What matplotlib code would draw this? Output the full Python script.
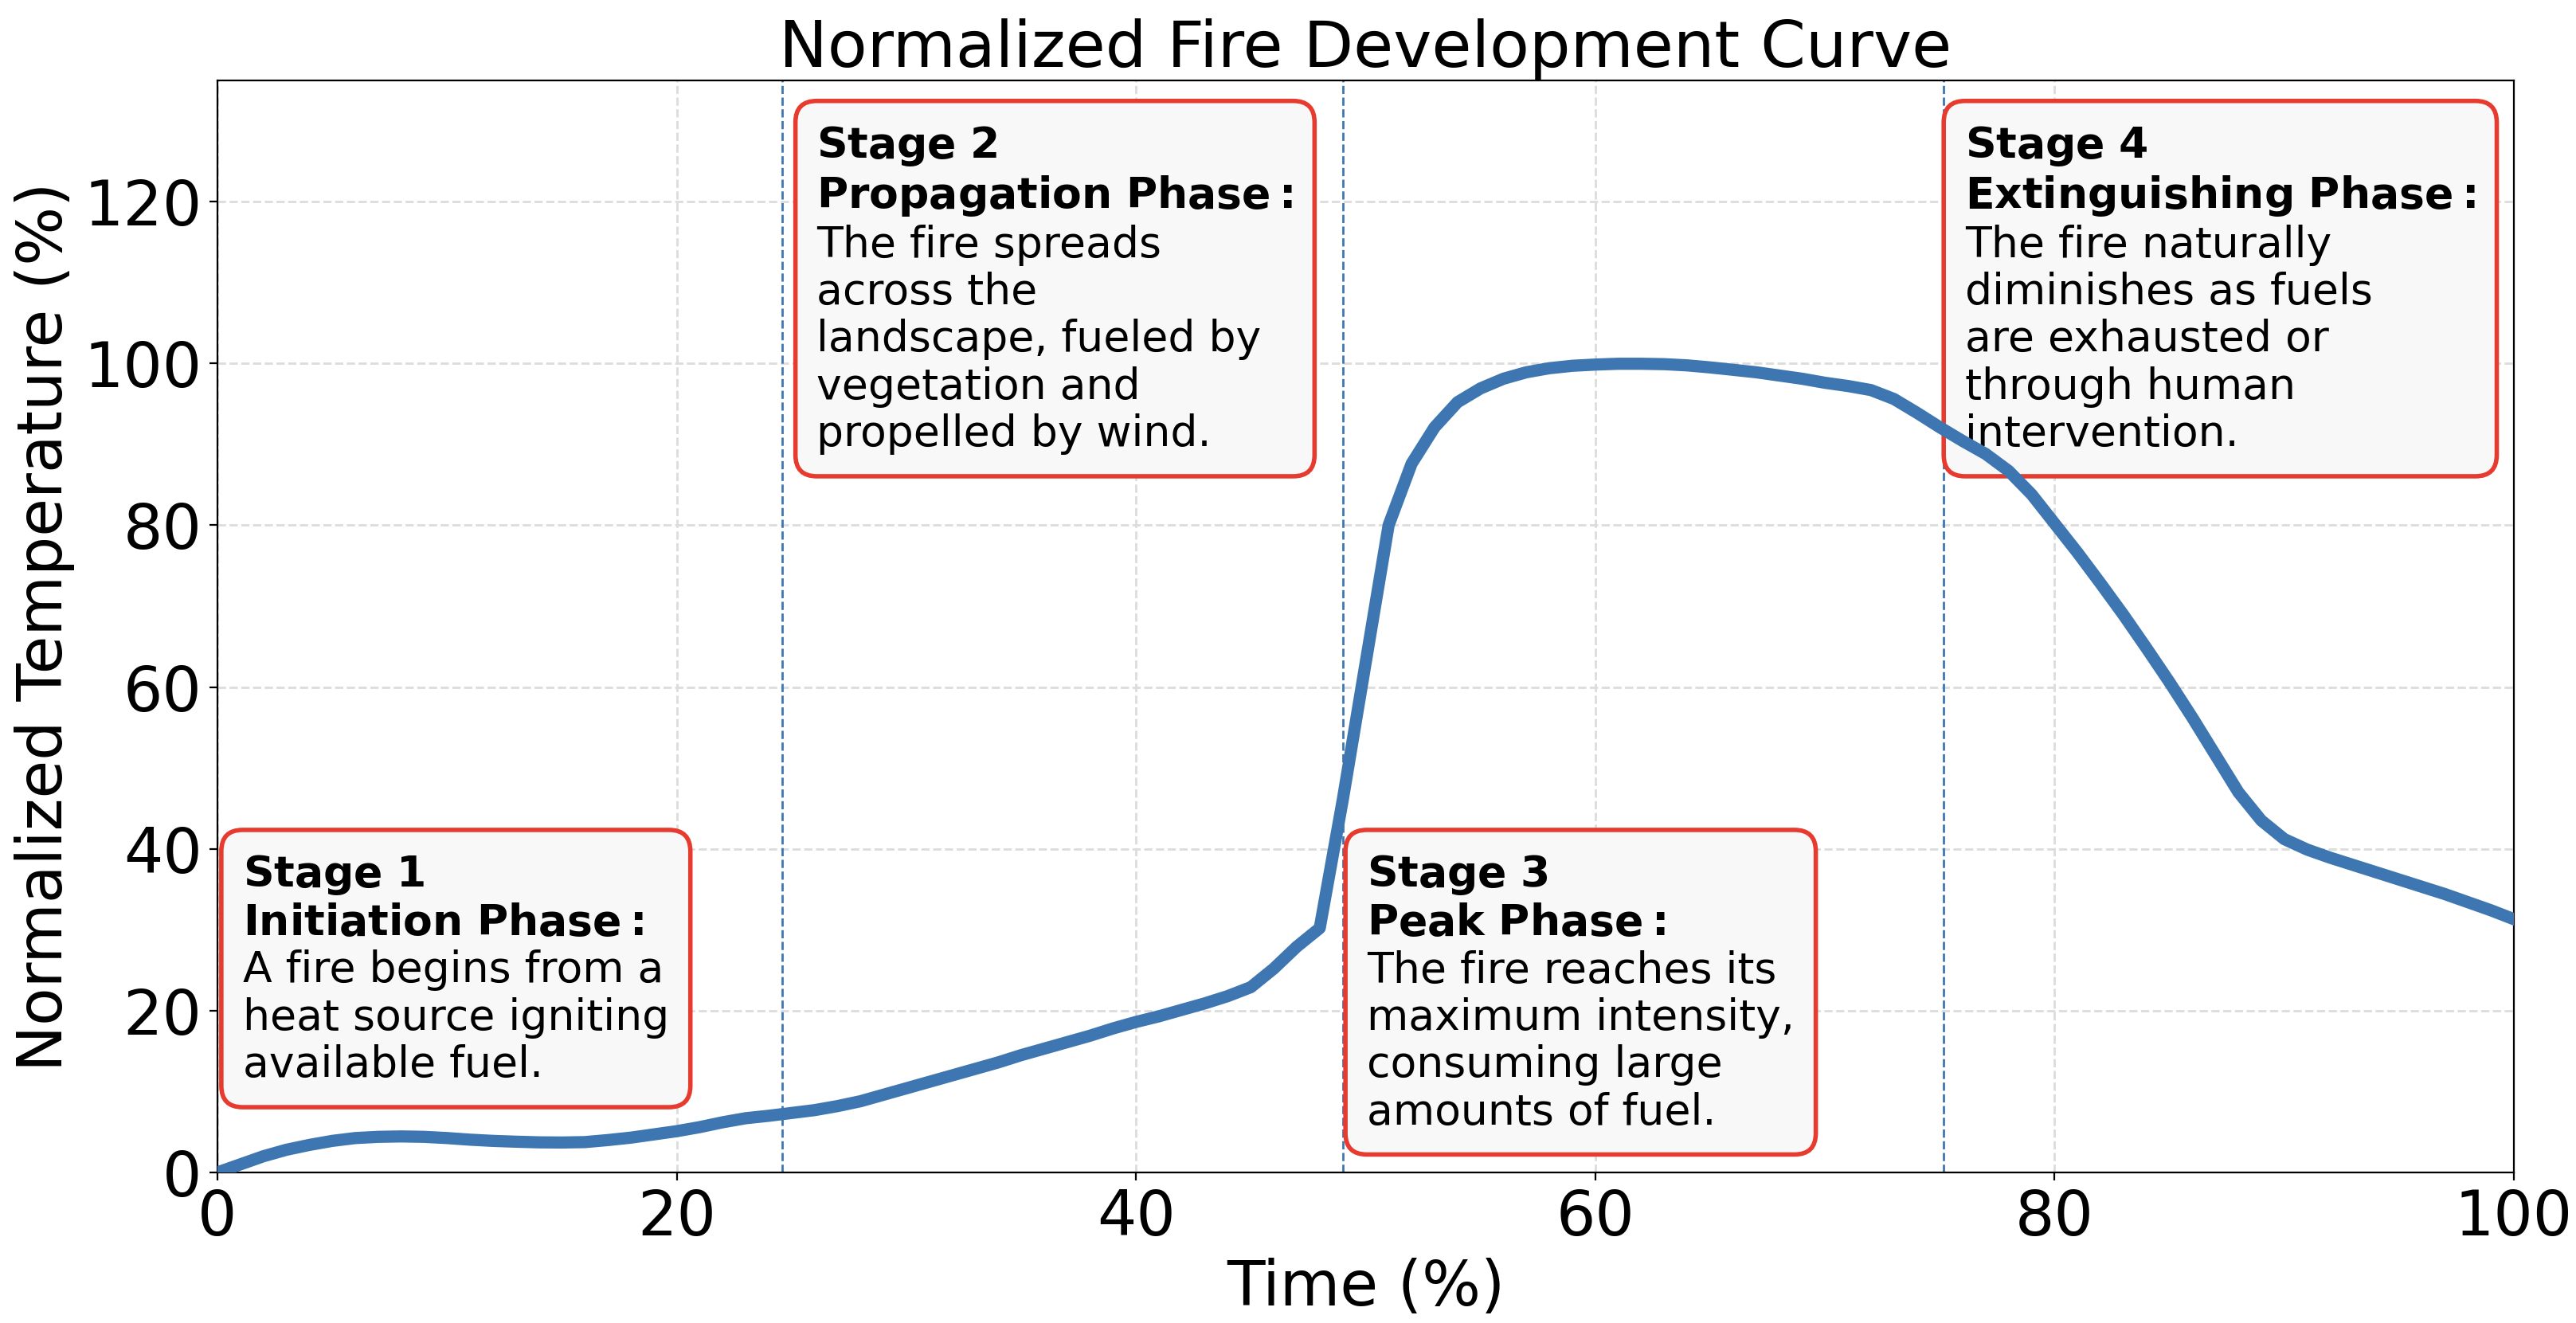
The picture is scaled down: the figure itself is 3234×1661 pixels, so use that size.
import numpy as np
import matplotlib
matplotlib.use("Agg")
import matplotlib.pyplot as plt

# time (%) and normalized temperature (%)
time_pct = list(range(0, 101))
temp_pct = [0.0, 1.0, 2.0, 2.8, 3.4, 3.9, 4.25, 4.4, 4.45, 4.4,
            4.25, 4.05, 3.9, 3.8, 3.72, 3.7, 3.75, 4.0, 4.3, 4.7,
            5.1, 5.6, 6.2, 6.7, 7.0, 7.35, 7.7, 8.2, 8.8, 9.6,
            10.4, 11.2, 12.0, 12.8, 13.6, 14.5, 15.3, 16.1, 16.9, 17.8,
            18.6, 19.3, 20.1, 20.9, 21.8, 22.9, 25.2, 27.9, 30.2, 46.0,
            63.0, 80.0, 87.6, 92.1, 95.2, 96.9, 98.1, 98.9, 99.4, 99.7,
            99.85, 99.95, 99.95, 99.9, 99.75, 99.5, 99.2, 98.9, 98.5, 98.1,
            97.6, 97.2, 96.7, 95.6, 93.9, 92.1, 90.4, 88.8, 86.7, 83.8,
            80.2, 76.6, 72.8, 68.9, 64.8, 60.6, 56.2, 51.6, 47.0, 43.5,
            41.2, 39.9, 38.9, 38.0, 37.1, 36.2, 35.3, 34.4, 33.4, 32.4,
            31.3]

stage_bounds = [24.6, 49.0, 75.15]
stage_names = ["Stage 1", "Stage 2", "Stage 3", "Stage 4"]
phase_names = ["Initiation Phase", "Propagation Phase", "Peak Phase", "Extinguishing Phase"]
phase_texts = [
    "A fire begins from a\nheat source igniting\navailable fuel.",
    "The fire spreads\nacross the\nlandscape, fueled by\nvegetation and\npropelled by wind.",
    "The fire reaches its\nmaximum intensity,\nconsuming large\namounts of fuel.",
    "The fire naturally\ndiminishes as fuels\nare exhausted or\nthrough human\nintervention.",
]
text_x = [1.1, 26.1, 50.05, 76.1]
text_y = [39.5, 129.6, 39.5, 129.6]

fig = plt.figure(figsize=(16.17, 8.305), dpi=200)
ax = fig.add_axes([0.0844, 0.1138, 0.8915, 0.8256])

ax.plot(time_pct, temp_pct, color='#3d76b0', lw=5.5, zorder=4)

for b in stage_bounds:
    ax.axvline(b, color='#3d76b0', ls='--', lw=1.0, zorder=2)

for i in range(4):
    label = (r"$\bf{" + stage_names[i].replace(" ", r"\ ") + "}$\n"
             + r"$\bf{" + phase_names[i].replace(" ", r"\ ") + ":}$\n"
             + phase_texts[i])
    ax.text(text_x[i], text_y[i], label, fontsize=19.3, ha='left', va='top', zorder=3,
            linespacing=1.18,
            bbox=dict(boxstyle='round,pad=0.5', facecolor='#f8f8f8',
                      edgecolor='#e63b2e', linewidth=2))

ax.set_xlim(0, 100)
ax.set_ylim(0, 135)
ax.set_xticks([0, 20, 40, 60, 80, 100])
ax.set_yticks([0, 20, 40, 60, 80, 100, 120])
ax.tick_params(labelsize=28)
ax.grid(True, ls='--', color='#dcdcdc', lw=1)
ax.set_axisbelow(True)

ax.set_title("Normalized Fire Development Curve", fontsize=29.3)
ax.set_xlabel("Time (%)", fontsize=28)
ax.set_ylabel("Normalized Temperature (%)", fontsize=28)

fig.savefig("out.png", dpi=200)
